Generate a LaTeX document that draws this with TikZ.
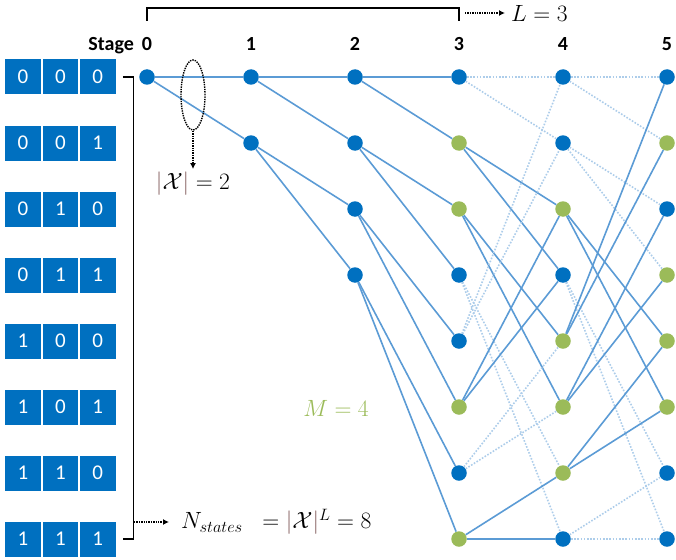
\RequirePackage{fix-cm}
\documentclass[tikz,border=0pt]{standalone}
\usepackage{fontspec}
\setsansfont{Carlito}
\usepackage{tikz}
\usetikzlibrary{shapes.geometric, arrows.meta, positioning}
\usepackage{xcolor}
\definecolor{stateblue}{RGB}{0,112,192}
\definecolor{stategreen}{RGB}{155,187,89}
\definecolor{edgeblue}{RGB}{91,155,213}
\definecolor{barbrown}{RGB}{133,96,96}

\begin{document}
\begin{tikzpicture}[
    x=1pt, y=-1pt,
    state/.style={circle, fill=#1, minimum size=15.5pt, inner sep=0pt},
    bit/.style={rectangle, fill=stateblue, text=white, minimum width=35.5pt, minimum height=35pt, inner sep=0pt, font=\sffamily\fontsize{21}{21}\selectfont},
    stagelbl/.style={font=\sffamily\bfseries\fontsize{20}{20}\selectfont},
    mathlbl/.style={font=\fontsize{23.5}{28}\selectfont, inner sep=1pt},
    kept/.style={edgeblue, line width=1.6pt},
    pruned/.style={edgeblue!50, line width=1.6pt, dash pattern=on 1.6pt off 1.6pt},
    note/.style={-{Latex[length=6pt, width=6pt]}, line width=1.4pt, dash pattern=on 1.4pt off 1pt},
    bracket/.style={line width=1.4pt},
]
    \useasboundingbox (0,0) rectangle (676,559);

    % Stage labels
    \foreach \k in {0,...,5}
        \node[stagelbl] (st-\k) at ({147+104*\k},44) {\k};
    \node[stagelbl, base left=1pt of st-0] (stagetxt) {Stage};

    % Bit patterns of the states
    \foreach \r/\bA/\bB/\bC in {0/0/0/0,1/0/0/1,2/0/1/0,3/0/1/1,4/1/0/0,5/1/0/1,6/1/1/0,7/1/1/1} {
        \node[bit] (b\r-0) at (23,{77+66*\r}) {\bA};
        \node[bit, right=1.5pt of b\r-0] (b\r-1) {\bB};
        \node[bit, right=1.5pt of b\r-1] (b\r-2) {\bC};
    }

    % Trellis states (green = kept)
    \node[state=stateblue] (s0-0) at (147,77) {};
    \foreach \r in {0,1}
        \node[state=stateblue] (s1-\r) at (251,{77+66*\r}) {};
    \foreach \r in {0,...,3}
        \node[state=stateblue] (s2-\r) at (355,{77+66*\r}) {};
    \foreach \r/\c in {0/stateblue,1/stategreen,2/stategreen,3/stateblue,4/stateblue,5/stategreen,6/stateblue,7/stategreen}
        \node[state=\c] (s3-\r) at (459,{77+66*\r}) {};
    \foreach \r/\c in {0/stateblue,1/stateblue,2/stategreen,3/stateblue,4/stategreen,5/stategreen,6/stategreen,7/stateblue}
        \node[state=\c] (s4-\r) at (563,{77+66*\r}) {};
    \foreach \r/\c in {0/stateblue,1/stategreen,2/stateblue,3/stategreen,4/stategreen,5/stategreen,6/stateblue,7/stateblue}
        \node[state=\c] (s5-\r) at (667,{77+66*\r}) {};

    % Growing tree, stages 0 to 3
    \foreach \k/\n in {0/0,1/1,2/3} {
        \pgfmathtruncatemacro{\kn}{\k+1}
        \foreach \r in {0,...,\n} {
            \pgfmathtruncatemacro{\ra}{2*\r}
            \pgfmathtruncatemacro{\rb}{2*\r+1}
            \draw[kept] (s\k-\r) -- (s\kn-\ra);
            \draw[kept] (s\k-\r) -- (s\kn-\rb);
        }
    }

    % Transitions, stages 3 to 5
    \foreach \k/\list in {3/{0/pruned,1/kept,2/kept,3/pruned,4/pruned,5/kept,6/pruned,7/kept},
                          4/{0/pruned,1/pruned,2/kept,3/pruned,4/kept,5/kept,6/kept,7/pruned}} {
        \pgfmathtruncatemacro{\kn}{\k+1}
        \foreach \r/\sty in \list {
            \pgfmathtruncatemacro{\ra}{mod(2*\r,8)}
            \pgfmathtruncatemacro{\rb}{mod(2*\r,8)+1}
            \draw[\sty] (s\k-\r) -- (s\kn-\ra);
            \draw[\sty] (s\k-\r) -- (s\kn-\rb);
        }
    }

    % Brackets
    \draw[bracket] ([xshift=7pt]b0-2.east) -- ++(11,0) |- ([xshift=7pt]b7-2.east);
    \draw[bracket] (147,21) -- (147,8) -- (459,8) -- (459,21);

    % Alphabet size
    \node[ellipse, draw, line width=1.4pt, dash pattern=on 1.4pt off 1pt, minimum width=24pt, minimum height=70pt, inner sep=0pt] (xsel) at (193,95) {};
    \node[mathlbl] (xlbl) at (193,184) {$\textcolor{barbrown}{|}\mathcal{X}\textcolor{barbrown}{|} = 2$};
    \draw[note, shorten >=2pt] (xsel.south) -- (xlbl.north);

    % Memory length
    \node[mathlbl, anchor=west] (lval) at (510,13) {$L = 3$};
    \coordinate (lfrom) at (465,13);
    \draw[note, shorten >=5pt] (lfrom) -- (lval.west);

    % Number of states
    \node[mathlbl, anchor=west] (nlbl) at (180,522) {$N_{states}\;\; = \textcolor{barbrown}{|}\mathcal{X}\textcolor{barbrown}{|}^L = 8$};
    \coordinate (nfrom) at (134,522);
    \draw[note, shorten >=11pt] (nfrom) -- (nlbl.west);

    % Survivors
    \node[mathlbl, text=stategreen] (mlbl) at (336,408) {$M = 4$};

\end{tikzpicture}
\end{document}
